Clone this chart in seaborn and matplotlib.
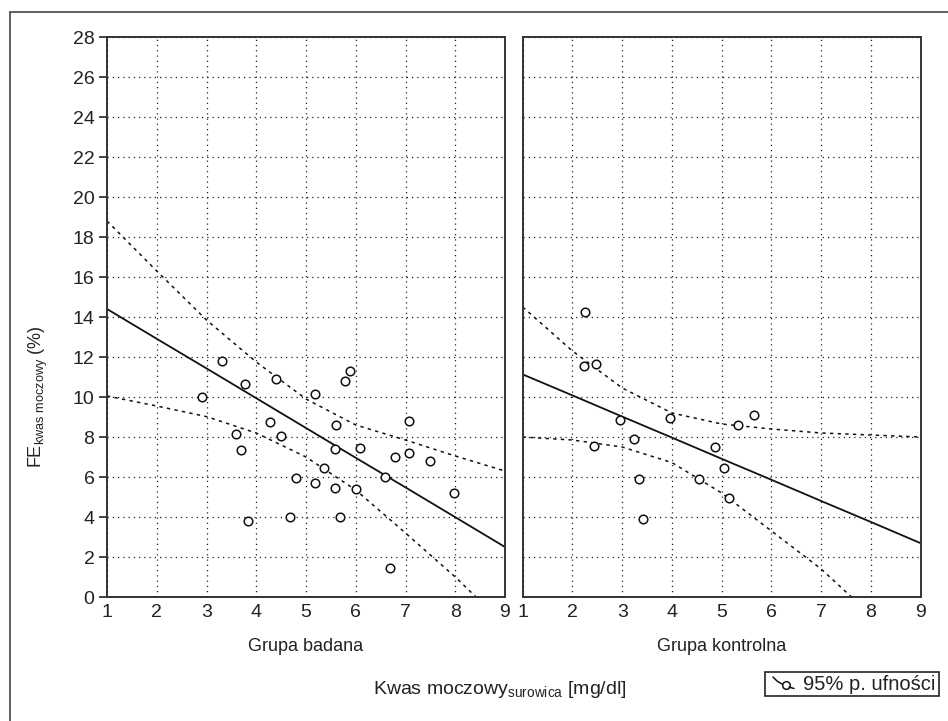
import numpy as np
import pandas as pd
import seaborn as sns
import matplotlib.pyplot as plt
from matplotlib.patches import Rectangle
from matplotlib.lines import Line2D

# ---- data ----
badana_x = [2.90, 3.31, 3.83, 3.59, 3.69, 3.77, 4.27, 4.39, 4.49, 4.68, 4.79,
            5.19, 5.19, 5.37, 5.60, 5.58, 5.58, 5.69, 5.79, 5.88, 6.00, 6.09,
            6.59, 6.68, 6.79, 7.08, 7.08, 7.50, 7.98]
badana_y = [10.02, 11.78, 3.8, 8.15, 7.37, 10.67, 8.75, 10.9, 8.07, 4.0, 5.97,
            10.15, 5.7, 6.47, 8.58, 7.4, 5.43, 4.0, 10.82, 11.32, 5.42, 7.45,
            6.0, 1.45, 7.02, 8.78, 7.22, 6.8, 5.22]

kontrolna_x = [2.25, 2.23, 2.48, 2.96, 3.97, 5.64, 5.33, 3.24, 2.44, 4.86,
               5.05, 3.34, 4.55, 3.42, 5.15]
kontrolna_y = [14.25, 11.53, 11.67, 8.87, 8.95, 9.1, 8.58, 7.88, 7.53, 7.5,
               6.45, 5.9, 5.9, 3.9, 4.95]

# regression line and 95% confidence limits, read at x = 1..9
curve_x = [1, 2, 3, 4, 5, 6, 7, 8, 9]
badana_fit = [14.4, 12.91, 11.43, 9.94, 8.45, 6.96, 5.48, 3.99, 2.5]
badana_upper = [18.8, 16.3, 13.85, 11.75, 9.9, 8.6, 7.85, 7.05, 6.3]
badana_lower = [10.05, 9.55, 9.02, 8.2, 7.0, 5.35, 3.2, 1.0, -1.4]

kontrolna_fit = [11.13, 10.08, 9.02, 7.97, 6.91, 5.86, 4.80, 3.75, 2.69]
kontrolna_upper = [14.5, 12.3, 10.45, 9.2, 8.65, 8.4, 8.2, 8.1, 8.0]
kontrolna_lower = [8.0, 7.85, 7.5, 6.72, 5.2, 3.3, 1.4, -0.9, -3.0]

x_ticks = [1, 2, 3, 4, 5, 6, 7, 8, 9]
y_ticks = list(range(0, 29, 2))
panel_titles = ["Grupa badana", "Grupa kontrolna"]
legend_label = "95% p. ufności"

sns.set_style("white")
plt.rcParams['font.family'] = ['Liberation Sans', 'DejaVu Sans']

fig = plt.figure(figsize=(9.48, 7.21), dpi=100)
W, H = 948, 721
ax1 = fig.add_axes([107 / W, 1 - 597 / H, 398 / W, 560 / H])
ax2 = fig.add_axes([522.7 / W, 1 - 597 / H, 398 / W, 560 / H])

panels = [
    (ax1, badana_x, badana_y, badana_fit, badana_upper, badana_lower),
    (ax2, kontrolna_x, kontrolna_y, kontrolna_fit, kontrolna_upper, kontrolna_lower),
]

for (ax, xs, ys, fit, up, lo), title in zip(panels, panel_titles):
    ax.set_xlim(1, 9)
    ax.set_ylim(0, 28)
    ax.set_xticks(x_ticks)
    ax.set_yticks(y_ticks)
    ax.grid(True, linestyle=(0, (1, 3.2)), color='#222222', linewidth=0.9)
    ax.set_axisbelow(True)
    df_line = pd.DataFrame({'x': curve_x, 'fit': fit, 'lo': lo, 'hi': up})
    sns.lineplot(data=df_line, x='x', y='fit', ax=ax, color='#111111', lw=1.3)
    sns.lineplot(data=df_line, x='x', y='lo', ax=ax, color='#111111', lw=1.1,
                 linestyle=(0, (2.2, 2.8)))
    sns.lineplot(data=df_line, x='x', y='hi', ax=ax, color='#111111', lw=1.1,
                 linestyle=(0, (2.2, 2.8)))
    sns.scatterplot(x=xs, y=ys, ax=ax, s=38, facecolor='white',
                    edgecolor='#111111', linewidth=1.1, zorder=5)
    ax.set_xlabel('')
    ax.set_ylabel('')
    for sp in ax.spines.values():
        sp.set_color('#333333')
        sp.set_linewidth(1.4)
        sp.set_visible(True)
    ax.tick_params(axis='x', length=0, labelsize=14, pad=5, colors='#222222')
    ax.set_title(title, y=-0.088, fontsize=13, color='#222222', va='top')

ax1.tick_params(axis='y', left=True, length=6, width=1.2, labelsize=14,
                colors='#222222', direction='out', pad=3)
ax2.tick_params(axis='y', left=False, labelleft=False)

fig.text(38 / W, 1 - 397 / H, r'FE$_{\mathregular{kwas\ moczowy}}$ (%)',
         rotation=90, ha='center', va='center', fontsize=13, color='#222222')
fig.text(500 / W, 1 - 690 / H, r'Kwas moczowy$_{\mathregular{surowica}}$ [mg/dl]',
         ha='center', va='center', fontsize=14, color='#222222')

# legend box drawn by hand (icon: stroke ending in an open circle)
fig.patches.append(Rectangle((765 / W, 1 - 696 / H), 174 / W, 24 / H,
                             transform=fig.transFigure, fill=False,
                             edgecolor='#222222', linewidth=1.2))
fig.lines.append(Line2D([773 / W, 777 / W, 782 / W], [1 - 677 / H, 1 - 681 / H, 1 - 684 / H],
                        transform=fig.transFigure, color='#111111', lw=1.1))
fig.lines.append(Line2D([786 / W], [1 - 684.5 / H], transform=fig.transFigure,
                        marker='o', markersize=5.5, markerfacecolor='white',
                        markeredgecolor='#111111', markeredgewidth=1.1, lw=0))
fig.lines.append(Line2D([789 / W, 794 / W], [1 - 687 / H, 1 - 688.5 / H],
                        transform=fig.transFigure, color='#111111', lw=1.1))
fig.text(935 / W, 1 - 684 / H, legend_label, ha='right', va='center',
         fontsize=14.5, color='#222222')

# outer frame: only its top and left edges fall inside the picture
fig.lines.append(Line2D([10 / W, 1.0], [1 - 12 / H, 1 - 12 / H],
                        transform=fig.transFigure, color='#444444', lw=1.2))
fig.lines.append(Line2D([10 / W, 10 / W], [0.0, 1 - 12 / H],
                        transform=fig.transFigure, color='#444444', lw=1.2))

fig.savefig('out.png', dpi=100)
